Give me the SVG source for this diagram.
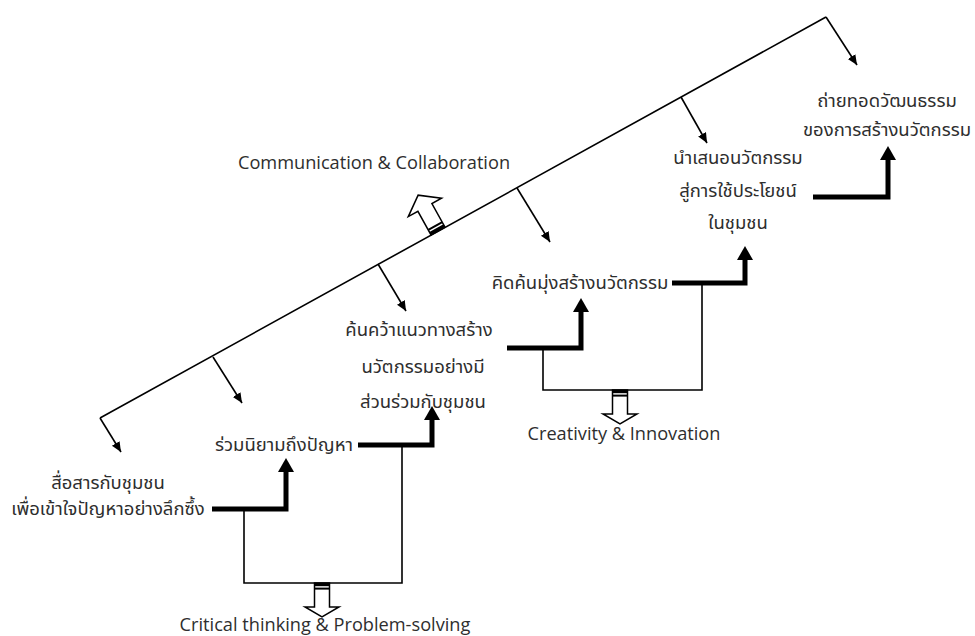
<svg xmlns="http://www.w3.org/2000/svg" width="975" height="636" viewBox="0 0 975 636">
  <style>
    .lbl { font-family: "Noto Sans Thai", "Noto Sans", "Open Sans", sans-serif; font-size: 18.5px; fill: #2e2e2e; text-anchor: middle; }
    .en { font-family: "Open Sans", "Noto Sans", sans-serif; font-size: 18.2px; fill: #2e2e2e; text-anchor: middle; }
    .thin { fill: none; stroke: #000; stroke-width: 1.6; }
    .thick { fill: none; stroke: #000; stroke-width: 5; stroke-linejoin: miter; }
    .hollow { fill: #fff; stroke: #000; stroke-width: 1.5; stroke-linejoin: miter; }
  </style>
  <defs>
    <marker id="tip" markerUnits="userSpaceOnUse" markerWidth="11" markerHeight="10" refX="10" refY="4.5" orient="auto">
      <path d="M0,0 L10,4.5 L0,9 Z" fill="#000"/>
    </marker>
    <marker id="bigtip" markerUnits="userSpaceOnUse" markerWidth="15" markerHeight="17" refX="0" refY="8" orient="auto">
      <path d="M0,0 L14,8 L0,16 Z" fill="#000"/>
    </marker>
    <!-- hollow block arrow pointing down, origin at the middle of its top edge -->
    <g id="blockArrow">
      <path class="hollow" d="M-7.5,0 L7.5,0 L7.5,24 L17,24 L0,34 L-17,24 L-7.5,24 Z"/>
      <rect x="-7.5" y="0" width="15" height="3.2" fill="#000"/>
      <rect x="-7.5" y="4.6" width="15" height="2" fill="#000"/>
    </g>
  </defs>

  <!-- connectors -->
  <g id="connectors">
    <!-- main diagonal with branch arrows -->
    <polyline class="thin" points="100,418 826,17"/>
    <line class="thin" x1="100" y1="418" x2="121" y2="452" marker-end="url(#tip)"/>
    <line class="thin" x1="213" y1="357" x2="242" y2="403" marker-end="url(#tip)"/>
    <line class="thin" x1="378" y1="264" x2="406" y2="311" marker-end="url(#tip)"/>
    <line class="thin" x1="517" y1="188" x2="550" y2="242" marker-end="url(#tip)"/>
    <line class="thin" x1="681" y1="97" x2="707" y2="143" marker-end="url(#tip)"/>
    <line class="thin" x1="826" y1="17" x2="857" y2="65" marker-end="url(#tip)"/>

    <!-- stepped progression arrows -->
    <polyline class="thick" points="212,509 286,509 286,472" marker-end="url(#bigtip)"/>
    <polyline class="thick" points="358,445 432,445 432,420" marker-end="url(#bigtip)"/>
    <polyline class="thick" points="507,348 581,348 581,312" marker-end="url(#bigtip)"/>
    <polyline class="thick" points="672,283 745,283 745,260" marker-end="url(#bigtip)"/>
    <polyline class="thick" points="813,197 888,197 888,160" marker-end="url(#bigtip)"/>

    <!-- brackets grouping steps -->
    <polyline class="thin" points="244,509 244,583 402,583 402,446"/>
    <polyline class="thin" points="543,348 543,390 702,390 702,283"/>

    <!-- skill outputs -->
    <use href="#blockArrow" transform="translate(322,583)"/>
    <use href="#blockArrow" transform="translate(620,390)"/>
    <g transform="translate(438,231) rotate(151)">
      <path class="hollow" d="M-8,0 L8,0 L8,27 L19,27 L0,41 L-19,27 L-8,27 Z"/>
      <rect x="-8" y="0" width="16" height="3.2" fill="#000"/>
      <rect x="-8" y="4.6" width="16" height="2" fill="#000"/>
    </g>
  </g>

  <!-- steps -->
  <g id="step1">
    <text class="lbl" x="108" y="489">สื่อสารกับชุมชน</text>
    <text class="lbl" x="108" y="515">เพื่อเข้าใจปัญหาอย่างลึกซึ้ง</text>
  </g>
  <g id="step2">
    <text class="lbl" x="284" y="451">ร่วมนิยามถึงปัญหา</text>
  </g>
  <g id="step3">
    <text class="lbl" x="419" y="336">ค้นคว้าแนวทางสร้าง</text>
    <text class="lbl" x="423" y="373">นวัตกรรมอย่างมี</text>
    <text class="lbl" x="423" y="408">ส่วนร่วมกับชุมชน</text>
  </g>
  <g id="step4">
    <text class="lbl" x="580" y="289">คิดค้นมุ่งสร้างนวัตกรรม</text>
  </g>
  <g id="step5">
    <text class="lbl" x="738" y="164">นำเสนอนวัตกรรม</text>
    <text class="lbl" x="738" y="197">สู่การใช้ประโยชน์</text>
    <text class="lbl" x="738" y="229">ในชุมชน</text>
  </g>
  <g id="step6">
    <text class="lbl" x="887" y="107">ถ่ายทอดวัฒนธรรม</text>
    <text class="lbl" x="887" y="136">ของการสร้างนวัตกรรม</text>
  </g>

  <!-- skills -->
  <g id="skill-communication">
    <text class="en" x="374" y="169">Communication &amp; Collaboration</text>
  </g>
  <g id="skill-critical">
    <text class="en" x="325" y="631">Critical thinking &amp; Problem-solving</text>
  </g>
  <g id="skill-creativity">
    <text class="en" x="624" y="440">Creativity &amp; Innovation</text>
  </g>
</svg>
